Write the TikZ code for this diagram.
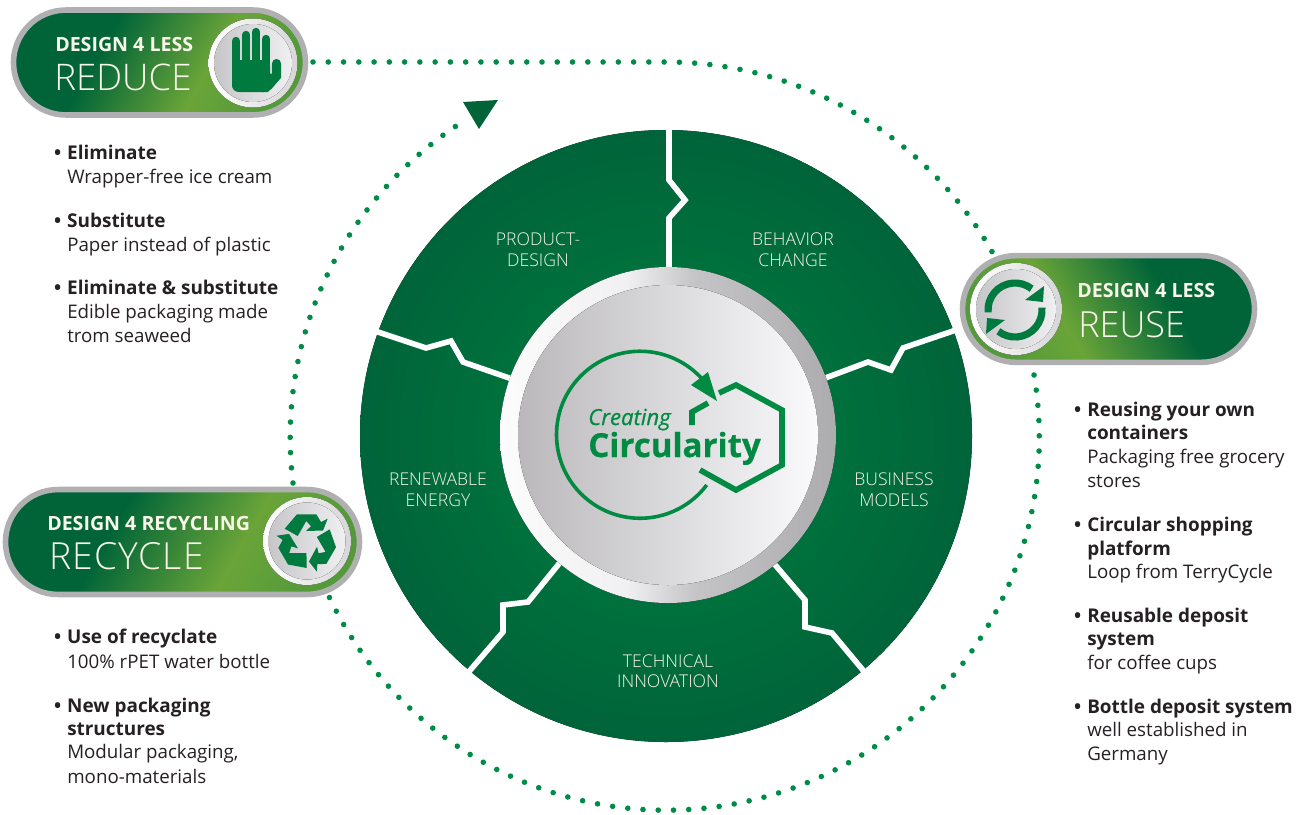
\documentclass[tikz,border=0pt]{standalone}
\usepackage{fontspec}
\usetikzlibrary{shapes.misc}
\setmainfont{Open Sans}
\newfontfamily\lightf{Open Sans Light}
\definecolor{dk}{RGB}{0,100,56}
\definecolor{br}{RGB}{106,164,56}
\definecolor{md}{RGB}{84,154,58}
\definecolor{dotg}{RGB}{0,140,70}
\definecolor{logog}{RGB}{0,138,66}
\definecolor{wheelin}{RGB}{0,128,64}
\definecolor{wheelout}{RGB}{0,100,58}
\definecolor{ink}{RGB}{38,32,36}
\definecolor{cream}{RGB}{248,246,232}
\definecolor{iconG}{RGB}{0,122,62}
\definecolor{ringA}{RGB}{252,252,252}
\definecolor{ringB}{RGB}{240,240,242}
\definecolor{ringC}{RGB}{196,195,198}
\definecolor{ringD}{RGB}{172,172,175}
\pgfdeclarehorizontalshading{pillsh}{100bp}{color(0bp)=(dk);color(25bp)=(dk);color(37bp)=(dk);color(60bp)=(br);color(75bp)=(md);color(100bp)=(md)}
\pgfdeclarehorizontalshading{ringsh}{100bp}{color(0bp)=(ringA);color(25bp)=(ringA);color(44bp)=(ringB);color(54bp)=(ringC);color(75bp)=(ringD);color(100bp)=(ringD)}
\tikzset{
  dotted ring/.style={dotg,line width=4.2pt,line cap=round,dash pattern=on 0pt off 11.45pt},
  pill/.style={rounded rectangle,inner sep=0pt,outer sep=0pt,draw={rgb,255:red,176;green,176;blue,178},line width=4.2pt,shading=pillsh},
  line/.style={anchor=base west,inner sep=0pt,text=ink,font=\fontsize{14.05}{15}\selectfont},
  head/.style={line,font=\fontsize{14.2}{15}\selectfont\bfseries},
  wlab/.style={anchor=base,inner sep=0pt,text=cream,font=\fontsize{13.2}{14}\selectfont\lightf},
  psm/.style={anchor=base west,inner sep=0pt,text=cream,font=\fontsize{14.7}{15}\selectfont\bfseries},
  pbig/.style={anchor=base west,inner sep=0pt,text=cream,font=\fontsize{27.5}{28}\selectfont\lightf},
  sep/.style={white,line width=4.2pt,line join=miter},
  ringdisc/.style={shading=ringsh},
  innerdisc/.style={left color={rgb,255:red,186;green,184;blue,187},right color={rgb,255:red,250;green,250;blue,252}},
  rimsmall/.style={left color=white,right color={rgb,255:red,214;green,214;blue,216}},
  innersmall/.style={left color={rgb,255:red,198;green,198;blue,200},right color={rgb,255:red,240;green,240;blue,242}},
  logoline/.style={logog,line join=miter}
}
\newcommand{\bu}{\llap{\textbf{•}\hspace{4.6pt}}}
\begin{document}
\begin{tikzpicture}[x=.75pt,y=.75pt]
\useasboundingbox (0,-814) rectangle (1308,0);
% dotted ring
\coordinate (ringCtr) at (666,-437);
\coordinate (d1) at (313,-62);
\coordinate (d1b) at (666,-62);
\coordinate (d2) at (1034,-375);
\coordinate (d3) at (293,-483);
\draw[dotted ring] (d1) -- (d1b) arc[start angle=90,end angle=27,radius=375];
\draw[dotted ring] (d2) arc[start angle=9.6,end angle=-155,radius=373];
\draw[dotted ring] (d3) arc[start angle=187,end angle=123.2,radius=375];
\fill[dk] (463,-102) -- (498,-100) -- (479,-129) -- cycle;
% wheel
\fill[inner color=wheelin,outer color=wheelout] (666,-436) circle[radius=306];
\draw[sep] (669,-125) -- (669,-180) -- (685,-200) -- (669,-218) -- (669,-275);
\draw[sep] (375,-331) -- (426,-348) -- (451,-341) -- (463,-362) -- (515,-380);
\draw[sep] (956,-330) -- (903,-348) -- (891,-370) -- (868,-362) -- (820,-380);
\draw[sep] (466,-675) -- (503,-632) -- (503,-605) -- (528,-602) -- (562,-560);
\draw[sep] (867,-675) -- (832,-633) -- (805,-627) -- (805,-600) -- (771,-560);
% central disc
\fill[ringdisc] (668,-435) circle[radius=168];
\fill[innerdisc] (668,-435) circle[radius=150];
% logo
\draw[logoline,line width=2.7pt] (706.7,-485) arc[start angle=-37,end angle=-321,radius=83.5];
\fill[logog] (708,-372) -- (691,-385) -- (717,-401) -- cycle;
\draw[logoline,line width=4.2pt] (719,-393) -- (736,-385) -- (782,-410) -- (782,-465) -- (736,-490) -- (700,-470);
\draw[logoline,line width=4.2pt] (708,-403) -- (692,-412) -- (692,-425);
\node[anchor=base west,inner sep=0pt,text=logog,font=\fontsize{16.6}{18}\selectfont\itshape\addfontfeature{FakeBold=0.6}] (creating) at (588,-425) {Creating};
\node[anchor=base west,inner sep=0pt,text=logog,font=\fontsize{24.8}{27}\selectfont\bfseries\addfontfeature{FakeBold=0.5}] (circ) at (588,-457) {Circularity};
% wheel labels
\node[wlab] (w1a) at (538,-245) {PRODUCT-};
\node[wlab] (w1b) at (538,-266) {DESIGN};
\node[wlab] (w2a) at (793,-245) {BEHAVIOR};
\node[wlab] (w2b) at (793,-266) {CHANGE};
\node[wlab] (w3a) at (894,-485) {BUSINESS};
\node[wlab] (w3b) at (894,-506) {MODELS};
\node[wlab] (w4a) at (668,-667) {TECHNICAL};
\node[wlab] (w4b) at (668,-687) {INNOVATION};
\node[wlab] (w5a) at (438,-485) {RENEWABLE};
\node[wlab] (w5b) at (438,-506) {ENERGY};
% pills
\node[pill,minimum width=219pt,minimum height=78.7pt,shading angle=-30] (reduce) at (159.5,-62.5) {};
\node[pill,minimum width=219pt,minimum height=80pt,shading angle=210] (reuse) at (1108.5,-309) {};
\node[pill,minimum width=265.5pt,minimum height=78.7pt,shading angle=-30] (recycle) at (182.5,-542) {};
\fill[rimsmall] (253,-63) circle[radius=44.5];
\fill[innersmall] (253,-63) circle[radius=39];
\fill[rimsmall] (1016,-309) circle[radius=46];
\fill[innersmall] (1016,-309) circle[radius=40];
\fill[rimsmall] (307,-541) circle[radius=44];
\fill[innersmall] (307,-541) circle[radius=38.5];
% hand
\begin{scope}[iconG,line width=6.3pt,line cap=round]
\draw (236,-41) -- (236,-70);
\draw (246,-35) -- (246,-70);
\draw (256,-32) -- (256,-70);
\draw (266,-39) -- (266,-70);
\draw[line width=6.8pt] (276.5,-63.5) -- (276.5,-76) -- (268,-86);
\fill[rounded corners=5pt] (232,-60) rectangle (270.2,-92);
\fill (264,-72) -- (272.5,-74) -- (280.5,-78) -- (268,-92) -- (262,-92) -- cycle;
\end{scope}
% reuse arrows
\begin{scope}[shift={(1015,-310)}]
\foreach \r in {0,180}{
\begin{scope}[rotate=\r]
\draw[iconG,line width=5.4pt] (185:27) arc[start angle=185,end angle=52,radius=27];
\fill[iconG] (29,24) -- (10,10) -- (28,8) -- cycle;
\end{scope}}
\end{scope}
% recycle symbol
\begin{scope}[shift={(307,-542)}]
\foreach \r in {0,120,240}{
\fill[iconG,rotate=\r] (-22.3,13.3) -- (-10,27.7) -- (9.3,27.7) -- (14,20) -- (20.7,23.3) -- (16,11.5) -- (-1,11) -- (4,15.7) -- (-.7,21) -- (-9.3,6) -- cycle;
}
\end{scope}
% pill text
\node[psm] (p1a) at (55,-51) {DESIGN 4 LESS};
\node[pbig] (p1b) at (54,-90) {REDUCE};
\node[psm] (p2a) at (1077,-297) {DESIGN 4 LESS};
\node[pbig,font=\fontsize{27}{28}\selectfont\lightf] (p2b) at (1078,-337) {REUSE};
\node[psm] (p3a) at (47,-530) {DESIGN 4 RECYCLING};
\node[pbig,font=\fontsize{28}{28}\selectfont\lightf\addfontfeature{LetterSpace=3}] (p3b) at (49,-569) {RECYCLE};
% left text
\node[head] (a1) at (67,-159) {\bu Eliminate};
\node[line] (a2) at (67,-183) {Wrapper-free ice cream};
\node[head] (a3) at (67,-227) {\bu Substitute};
\node[line] (a4) at (67,-251) {Paper instead of plastic};
\node[head] (a5) at (67,-294) {\bu Eliminate \& substitute};
\node[line] (a6) at (67,-318) {Edible packaging made};
\node[line] (a7) at (67,-342) {trom seaweed};
\node[head] (b1) at (67,-643) {\bu Use of recyclate};
\node[line] (b2) at (67,-668) {100\% rPET water bottle};
\node[head] (b3) at (67,-712) {\bu New packaging};
\node[head] (b4) at (67,-735) {structures};
\node[line] (b5) at (67,-758) {Modular packaging,};
\node[line] (b6) at (67,-783) {mono-materials};
% right text
\node[head] (c1) at (1087,-416) {\bu Reusing your own};
\node[head] (c2) at (1087,-439) {containers};
\node[line] (c3) at (1087,-463) {Packaging free grocery};
\node[line] (c4) at (1087,-487) {stores};
\node[head] (c5) at (1087,-531) {\bu Circular shopping};
\node[head] (c6) at (1087,-555) {platform};
\node[line] (c7) at (1087,-578) {Loop from TerryCycle};
\node[head] (c8) at (1087,-622) {\bu Reusable deposit};
\node[head] (c9) at (1087,-645) {system};
\node[line] (c10) at (1087,-669) {for coffee cups};
\node[head] (c11) at (1087,-713) {\bu Bottle deposit system};
\node[line] (c12) at (1087,-736) {well established in};
\node[line] (c13) at (1087,-760) {Germany};
\end{tikzpicture}
\end{document}
